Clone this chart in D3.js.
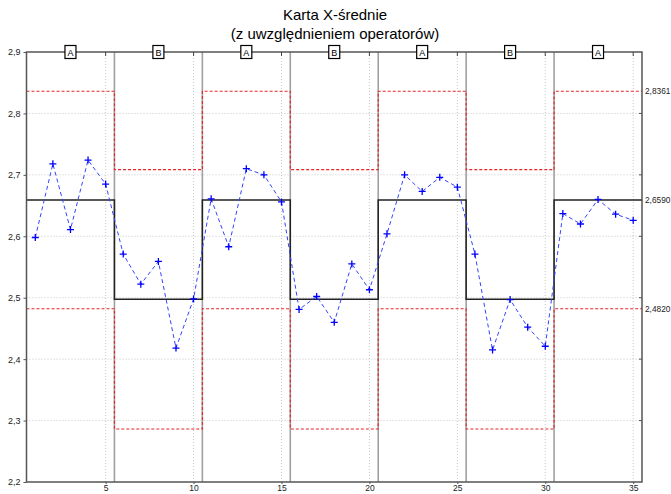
<!DOCTYPE html>
<html>
<head>
<meta charset="utf-8">
<script src="https://cdn.jsdelivr.net/npm/d3@7"></script>
<style>
  body { margin: 0; background: #fff; }
  text { font-family: "Liberation Sans", Arial, sans-serif; }
</style>
</head>
<body>
<svg width="671" height="494"></svg>
<script>
// sample means, 35 samples, 5 per operator block
var samples = d3.range(1, 36);
var means = [2.598, 2.718, 2.611, 2.724, 2.685, 2.571, 2.522, 2.559, 2.418, 2.498,
             2.661, 2.583, 2.710, 2.700, 2.656, 2.481, 2.502, 2.460, 2.555, 2.513,
             2.604, 2.700, 2.673, 2.696, 2.680, 2.571, 2.415, 2.497, 2.452, 2.421,
             2.637, 2.620, 2.660, 2.636, 2.626];
var operators = ["A", "B", "A", "B", "A", "B", "A"];
var centerLine = { A: 2.6590, B: 2.4974 };
var uclLine = { A: 2.8361, B: 2.7084 };
var lclLine = { A: 2.4820, B: 2.2863 };
var yTicks = [2.2, 2.3, 2.4, 2.5, 2.6, 2.7, 2.8, 2.9];
var xTicks = [5, 10, 15, 20, 25, 30, 35];
var rightLabels = ["2,8361", "2,6590", "2,4820"];
var rightValues = [2.8361, 2.6590, 2.4820];

var svg = d3.select("svg");
var pLeft = 26.5, pRight = 642, pTop = 52, pBottom = 482;

var pl = d3.formatLocale({ decimal: ",", thousands: " ", grouping: [3], currency: ["", ""] });
var f1 = pl.format(".1f");

var x = d3.scaleLinear().domain([0.5, 35.5]).range([pLeft, pRight]);
var y = d3.scaleLinear().domain([2.2, 2.9]).range([pBottom, pTop]);

// title
svg.append("text").attr("x", 335).attr("y", 20).attr("text-anchor", "middle")
    .style("font-size", "15px").text("Karta X-średnie");
svg.append("text").attr("x", 335).attr("y", 39).attr("text-anchor", "middle")
    .style("font-size", "15px").text("(z uwzględnieniem operatorów)");

// grid
svg.append("g").selectAll("line").data(yTicks.slice(1, -1)).enter().append("line")
    .attr("x1", pLeft).attr("x2", pRight)
    .attr("y1", function (d) { return y(d); }).attr("y2", function (d) { return y(d); })
    .attr("stroke", "#c8c8c8").attr("stroke-dasharray", "1,2");
svg.append("g").selectAll("line").data(xTicks).enter().append("line")
    .attr("x1", function (d) { return x(d); }).attr("x2", function (d) { return x(d); })
    .attr("y1", pTop).attr("y2", pBottom)
    .attr("stroke", "#c8c8c8").attr("stroke-dasharray", "1,2");

// block separators
var blocks = operators.map(function (op, i) {
    return { op: op, x0: i * 5 + 0.5, x1: i * 5 + 5.5, mid: i * 5 + 3 };
});
svg.append("g").selectAll("line").data(blocks.slice(1)).enter().append("line")
    .attr("x1", function (d) { return x(d.x0); }).attr("x2", function (d) { return x(d.x0); })
    .attr("y1", pTop).attr("y2", pBottom)
    .attr("stroke", "#a0a0a0").attr("stroke-width", 1.6);

// step lines for limits and center
function stepPoints(lim) {
    var pts = [];
    blocks.forEach(function (b) {
        pts.push([b.x0, lim[b.op]]);
        pts.push([b.x1, lim[b.op]]);
    });
    return pts;
}
var stepLine = d3.line().x(function (d) { return x(d[0]); }).y(function (d) { return y(d[1]); });

[uclLine, lclLine].forEach(function (lim) {
    svg.append("path").attr("d", stepLine(stepPoints(lim)))
        .attr("fill", "none").attr("stroke", "#e8262a").attr("stroke-width", 1.2)
        .attr("stroke-dasharray", "3,2");
});
svg.append("path").attr("d", stepLine(stepPoints(centerLine)))
    .attr("fill", "none").attr("stroke", "#222").attr("stroke-width", 1.5);

// data
var line = d3.line().x(function (d, i) { return x(samples[i]); }).y(function (d) { return y(d); });
svg.append("path").datum(means).attr("d", line)
    .attr("fill", "none").attr("stroke", "#3344ff").attr("stroke-width", 1)
    .attr("stroke-dasharray", "4,3");
svg.append("g").selectAll("path").data(means).enter().append("path")
    .attr("d", function (d, i) {
        var cx = x(samples[i]), cy = y(d);
        return "M" + (cx - 3.5) + "," + cy + "H" + (cx + 3.5) + "M" + cx + "," + (cy - 3.5) + "V" + (cy + 3.5);
    })
    .attr("stroke", "#0000ff").attr("stroke-width", 1.3);

// frame
svg.append("rect").attr("x", pLeft).attr("y", pTop)
    .attr("width", pRight - pLeft).attr("height", pBottom - pTop)
    .attr("fill", "none").attr("stroke", "#555").attr("stroke-width", 1.5);

function styleAxis(g) {
    g.select(".domain").remove();
    g.selectAll("text").style("font-size", "9px").attr("fill", "#222");
    g.selectAll("line").attr("stroke", "#555");
}

// left axis
svg.append("g").attr("transform", "translate(" + pLeft + ",0)")
    .call(d3.axisLeft(y).tickValues(yTicks).tickFormat(f1).tickSize(3))
    .call(styleAxis);

// right axis
svg.append("g").attr("transform", "translate(" + pRight + ",0)")
    .call(d3.axisRight(y).tickValues(rightValues)
        .tickFormat(function (d, i) { return rightLabels[i]; })
        .tickSize(0).tickPadding(3))
    .call(styleAxis)
    .call(function (g) { g.selectAll("text").style("font-size", "8.3px"); });
svg.append("g").selectAll("line").data(yTicks.slice(1, -1)).enter().append("line")
    .attr("x1", pRight - 3).attr("x2", pRight)
    .attr("y1", function (d) { return y(d); }).attr("y2", function (d) { return y(d); })
    .attr("stroke", "#555");

// bottom axis
svg.append("g").attr("transform", "translate(0," + pBottom + ")")
    .call(d3.axisBottom(x).tickValues(xTicks).tickFormat(d3.format("d")).tickSize(2).tickPadding(1))
    .call(styleAxis)
    .call(function (g) { g.selectAll("text").style("font-size", "8.5px"); });

// top ticks
svg.append("g").selectAll("line").data(xTicks).enter().append("line")
    .attr("x1", function (d) { return x(d); }).attr("x2", function (d) { return x(d); })
    .attr("y1", pTop).attr("y2", pTop + 4).attr("stroke", "#444");

// operator labels on top
var lab = svg.append("g").selectAll("g").data(blocks).enter().append("g")
    .attr("transform", function (d) { return "translate(" + x(d.mid) + "," + pTop + ")"; });
lab.append("rect").attr("x", -5.5).attr("y", -6.5).attr("width", 11).attr("height", 13)
    .attr("fill", "#fff").attr("stroke", "#000").attr("stroke-width", 1.2);
lab.append("text").attr("text-anchor", "middle").attr("y", 3.5)
    .style("font-size", "9px").text(function (d) { return d.op; });
</script>
</body>
</html>
